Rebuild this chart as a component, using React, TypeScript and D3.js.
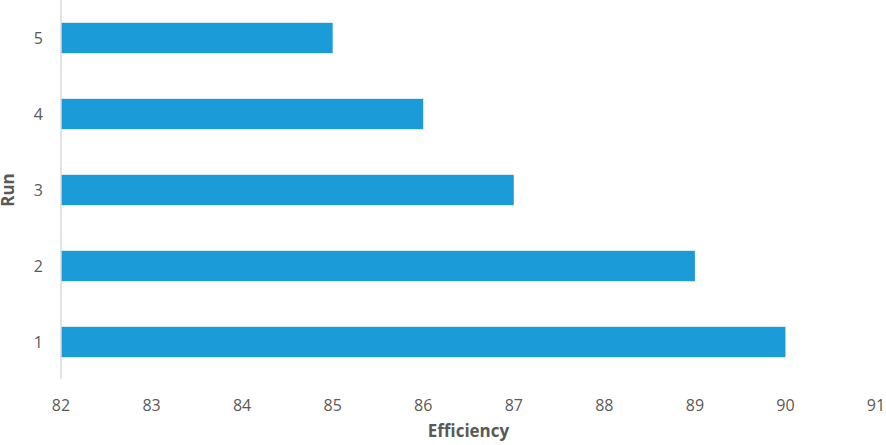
import * as d3 from "d3";

const runs = ["1", "2", "3", "4", "5"];
const efficiency = [90, 89, 87, 86, 85];
const xTicks = [82, 83, 84, 85, 86, 87, 88, 89, 90, 91];

const WIDTH = 886;
const HEIGHT = 445;
const MARGIN = { top: 0, right: 10, bottom: 65, left: 61 };

const BAR_COLOR = "#1b9bd7";
const TEXT_COLOR = "#595959";
const FONT = "'Open Sans', 'Noto Sans', sans-serif";

export default function App() {
  const boundsWidth = WIDTH - MARGIN.left - MARGIN.right;
  const boundsHeight = HEIGHT - MARGIN.top - MARGIN.bottom;

  const xScale = d3.scaleLinear().domain([82, 91]).range([0, boundsWidth]);
  const yScale = d3
    .scaleBand()
    .domain([...runs].reverse())
    .range([0, boundsHeight])
    .paddingInner(0.6)
    .paddingOuter(0.3);

  const bars = runs.map((r, i) => (
    <rect
      key={r}
      x={xScale(82)}
      y={yScale(r)}
      width={xScale(efficiency[i]) - xScale(82)}
      height={yScale.bandwidth()}
      fill={BAR_COLOR}
    />
  ));

  const yLabels = runs.map((r) => (
    <text
      key={r}
      x={-18}
      y={(yScale(r) ?? 0) + yScale.bandwidth() / 2}
      textAnchor="end"
      dominantBaseline="central"
      fontSize={16}
      fill={TEXT_COLOR}
    >
      {r}
    </text>
  ));

  const xLabels = xTicks.map((t) => (
    <text
      key={t}
      x={xScale(t)}
      y={boundsHeight + 25}
      textAnchor="middle"
      dominantBaseline="central"
      fontSize={16}
      fill={TEXT_COLOR}
    >
      {t}
    </text>
  ));

  return (
    <svg
      width={WIDTH}
      height={HEIGHT}
      style={{ position: "absolute", left: 0, top: 0, fontFamily: FONT }}
    >
      <g transform={`translate(${MARGIN.left},${MARGIN.top})`}>
        {bars}
        <line
          x1={0}
          x2={0}
          y1={0}
          y2={boundsHeight - 1}
          stroke="#d9d9d9"
          strokeWidth={1.5}
        />
        {yLabels}
        {xLabels}
        <text
          x={boundsWidth / 2}
          y={boundsHeight + 57}
          textAnchor="middle"
          fontSize={17}
          fontWeight="bold"
          fill={TEXT_COLOR}
        >
          Efficiency
        </text>
      </g>
      <text
        transform={`translate(14,${MARGIN.top + boundsHeight / 2}) rotate(-90)`}
        textAnchor="middle"
        fontSize={17}
        fontWeight="bold"
        fill={TEXT_COLOR}
      >
        Run
      </text>
    </svg>
  );
}
